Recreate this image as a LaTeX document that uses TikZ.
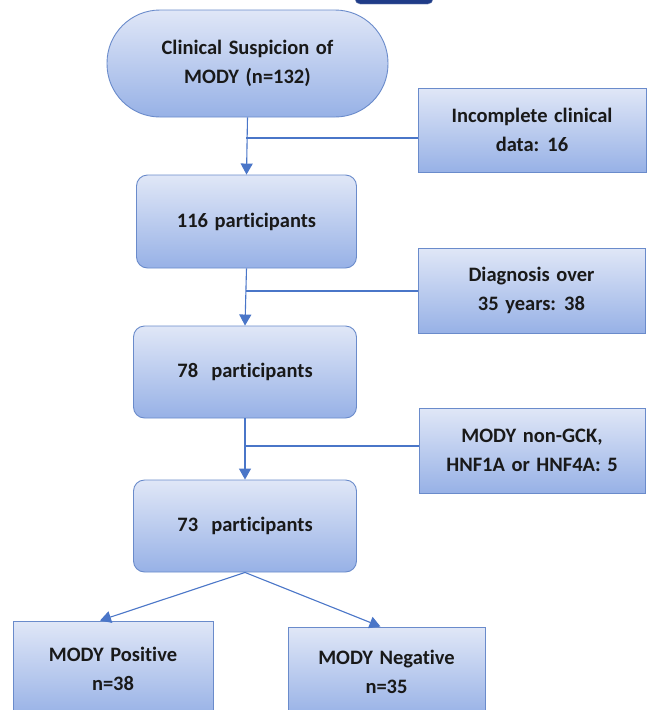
\documentclass[tikz,border=0pt]{standalone}
\usepackage{fontspec}
\setmainfont{Carlito}[Ligatures={NoCommon}]
\usetikzlibrary{arrows.meta,calc}
\definecolor{topc}{HTML}{E0E7F7}
\definecolor{botc}{HTML}{97B1E6}
\definecolor{edgec}{HTML}{6A8BCB}
\definecolor{linec}{HTML}{4A76C8}
\definecolor{badge}{HTML}{1F3C88}
\newcommand{\myboxfont}{\fontsize{20.5}{28.5}\selectfont\bfseries\spaceskip=0.32em\relax}
\tikzset{
  box/.style={draw=edgec, line width=0.9pt, top color=topc, bottom color=botc,
    align=center, font=\myboxfont, text=black!90, inner sep=0pt},
  rbox/.style={box, rounded corners=11pt},
  conn/.style={draw=linec, line width=1.1pt},
  arr/.style={conn, -{Triangle[length=11pt,width=12pt]}}
}
\begin{document}
\begin{tikzpicture}[x=1pt,y=-1pt]
\useasboundingbox (0,0) rectangle (649,710);
\clip (0,0) rectangle (649,710);
\fill[white] (0,0) rectangle (649,710);
% partial badge at top edge
\filldraw[fill=badge, draw=badge!60, rounded corners=5pt] (355,-14) rectangle (433,4);

\node[box, rounded corners=53pt, minimum width=281pt, minimum height=107pt] (top) at (247.5,63.5) {Clinical Suspicion of\\MODY (n=132)};
\node[box, minimum width=228pt, minimum height=84pt] (inc) at (532,130) {Incomplete clinical\\data: 16};
\node[rbox, minimum width=220pt, minimum height=93pt] (p116) at (246.5,221.5) {116 participants};
\node[box, minimum width=227pt, minimum height=85pt] (diag) at (531.5,290.5) {Diagnosis over\\35 years: 38};
\node[rbox, minimum width=223pt, minimum height=92pt] (p78) at (245,372) {78\ \ participants};
\node[box, minimum width=226pt, minimum height=85pt] (gck) at (532,450.5) {MODY non-GCK,\\HNF1A or HNF4A: 5};
\node[rbox, minimum width=223pt, minimum height=92pt] (p73) at (245,526) {73\ \ participants};
\node[box, minimum width=200pt, minimum height=96pt] (pos) at (113,669) {MODY Positive\\n=38};
\node[box, minimum width=197pt, minimum height=90pt] (neg) at (386.5,672) {MODY Negative\\n=35};

\coordinate (j1) at (246,138);
\coordinate (j2) at (246,291);
\coordinate (j3) at (246,446);

\draw[arr] (top.south) -- (p116.north);
\draw[conn] (j1) -- (j1 -| inc.west);
\draw[arr] (p116.south) -- (p78.north);
\draw[conn] (j2) -- (j2 -| diag.west);
\draw[arr] (p78.south) -- (p73.north);
\draw[conn] (j3) -- (j3 -| gck.west);
\draw[arr] (p73.south) -- ($(pos.north)+(-13,0)$);
\draw[arr] (p73.south) -- ($(neg.north)+(-6,0)$);
\end{tikzpicture}
\end{document}
